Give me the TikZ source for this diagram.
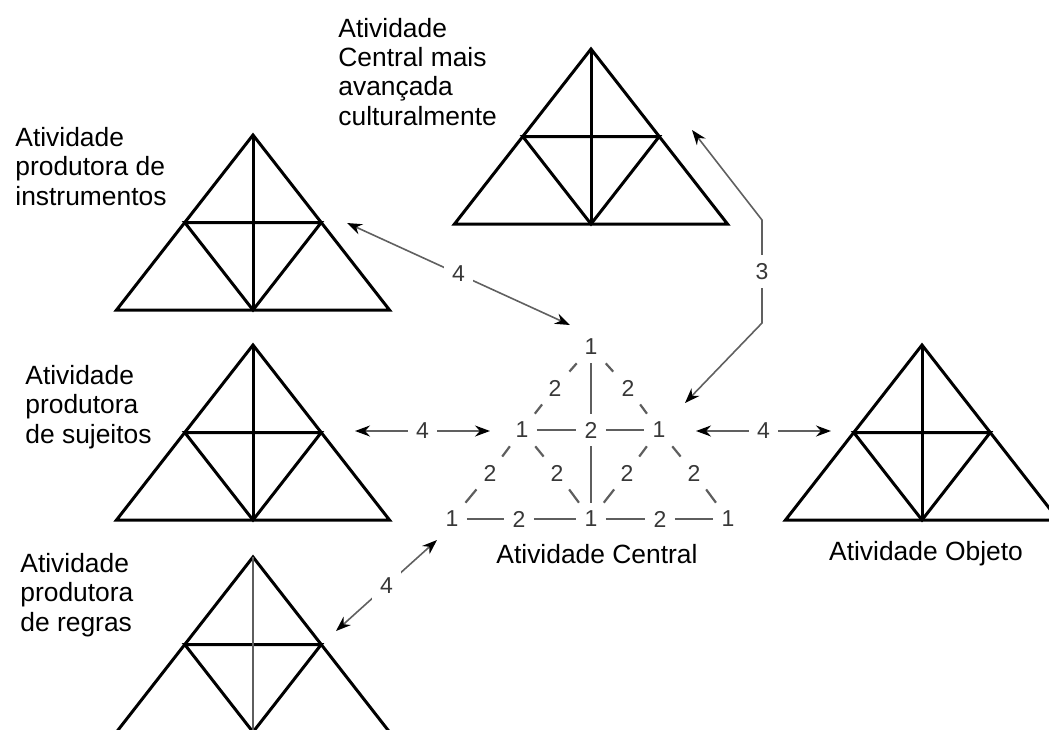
\documentclass[tikz,border=0pt]{standalone}
\usepackage{fontspec}
\setmainfont{Liberation Sans}
\usepackage{tikz}
\usetikzlibrary{arrows.meta}
\definecolor{arrowgray}{HTML}{606060}
\definecolor{numgray}{HTML}{383838}
\definecolor{linegray}{HTML}{5E5E5E}
\tikzstyle{TriLine}=[draw=black, line width=1.5pt]
\tikzstyle{ThinLine}=[draw=linegray, line width=0.9pt]
\tikzstyle{CLine}=[draw=linegray, line width=1.1pt]
\tikzstyle{Label}=[anchor=base west, align=left, inner sep=0pt, font=\fontsize{13.2}{14.6}\selectfont]
\tikzstyle{CNum}=[text=numgray, inner sep=4pt, font=\fontsize{11.5}{12}\selectfont]
\tikzstyle{Num}=[fill=white, text=numgray, inner sep=4pt, font=\fontsize{11.5}{12}\selectfont]
\tikzstyle{Link}=[draw=arrowgray, line width=0.8pt, {Stealth[length=7.5pt,width=5.5pt,color=black]}-{Stealth[length=7.5pt,width=5.5pt,color=black]}]
% activity triangle hanging from apex #2, vertical line drawn with style #1
\newcommand{\acttri}[2][TriLine]{%
  \draw[TriLine] (#2) -- ++(-136.5,175) -- ++(273,0) -- cycle;
  \draw[TriLine] ([shift={(-68.25,87.5)}]#2) -- ++(136.5,0) -- ++(-68.25,87.5) -- cycle;
  \draw[#1] (#2) -- ++(0,175);
}

\begin{document}
\begin{tikzpicture}[x=0.5pt, y=-0.5pt]
    \clip (0,0) rectangle (1049,729);
    \coordinate (instr) at (253,135);
    \coordinate (adv) at (591,49);
    \coordinate (subj) at (253,345);
    \coordinate (obj) at (922,345);
    \coordinate (rules) at (253,557);
    \acttri{instr}
    \acttri{adv}
    \acttri{subj}
    \acttri{obj}
    \acttri[ThinLine]{rules}

    % labels are placed by the baseline of their last line
    \path (15,205) node[Label] (tinstr) {Atividade\\produtora de\\instrumentos}
    (338,125) node[Label] (tadv) {Atividade\\Central mais\\avançada\\culturalmente}
    (25,443) node[Label] (tsubj) {Atividade\\produtora\\de sujeitos}
    (20,631) node[Label] (trules) {Atividade\\produtora\\de regras}
    (597,563) node[Label, anchor=base] (tcentral) {Atividade Central}
    (926,560) node[Label, anchor=base] (tobj) {Atividade Objeto};

    % central activity
    \path (591,347) node[CNum] (c1t) {1}
    (522,430) node[CNum] (c1l) {1}
    (659,430) node[CNum] (c1r) {1}
    (452,519) node[CNum] (c1a) {1}
    (591,519) node[CNum] (c1b) {1}
    (728,519) node[CNum] (c1c) {1}
    (555,388) node[CNum] (c2tl) {2}
    (628,388) node[CNum] (c2tr) {2}
    (591,430) node[CNum] (c2m) {2}
    (490,473) node[CNum] (c2ll) {2}
    (557,473) node[CNum] (c2lm) {2}
    (627,473) node[CNum] (c2rm) {2}
    (694,473) node[CNum] (c2rr) {2}
    (519,519) node[CNum] (c2bl) {2}
    (660,519) node[CNum] (c2br) {2};
    \draw[CLine] (c1t) -- (c2tl) -- (c1l);
    \draw[CLine] (c1t) -- (c2tr) -- (c1r);
    \draw[CLine] (c1t) -- (c2m) -- (c1b);
    \draw[CLine] (c1l) -- (c2m) -- (c1r);
    \draw[CLine] (c1l) -- (c2ll) -- (c1a);
    \draw[CLine] (c1l) -- (c2lm) -- (c1b);
    \draw[CLine] (c1r) -- (c2rm) -- (c1b);
    \draw[CLine] (c1r) -- (c2rr) -- (c1c);
    \draw[CLine] (c1a) -- (c2bl) -- (c1b) -- (c2br) -- (c1c);

    % links
    \coordinate (l1a) at (347,223);
    \coordinate (l1b) at (570,325);
    \coordinate (l2a) at (355,431);
    \coordinate (l2b) at (490,431);
    \coordinate (l3a) at (696,431);
    \coordinate (l3b) at (831,431);
    \coordinate (l4a) at (336,631);
    \coordinate (l4b) at (437,540);
    \coordinate (l5a) at (685,403);
    \coordinate (l5b) at (762,323);
    \coordinate (l5c) at (762,220);
    \coordinate (l5d) at (692,130);
    \draw[Link] (l1a) -- node[Num] {4} (l1b);
    \draw[Link] (l2a) -- node[Num] {4} (l2b);
    \draw[Link] (l3a) -- node[Num] {4} (l3b);
    \draw[Link] (l4a) -- node[Num] {4} (l4b);
    \draw[Link] (l5a) -- (l5b) -- node[Num] {3} (l5c) -- (l5d);
\end{tikzpicture}
\end{document}
